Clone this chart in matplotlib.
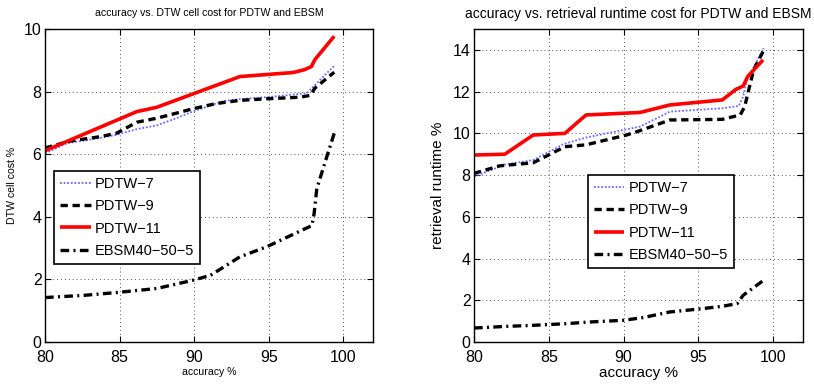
import matplotlib
matplotlib.use("Agg")
import matplotlib.pyplot as plt

# ---- data: left panel (DTW cell cost %) ----
cell_p7_x = [80.0, 81.5, 83.7, 84.8, 86.15, 87.5, 88.8, 89.9, 91.97, 93.1, 95.3, 97.56, 98.23, 99.46]
cell_p7_y = [6.03, 6.35, 6.52, 6.62, 6.80, 6.92, 7.15, 7.36, 7.70, 7.76, 7.84, 7.95, 8.27, 8.85]

cell_p9_x = [80.0, 81.7, 83.7, 84.8, 86.15, 87.5, 88.8, 89.9, 91.5, 93.07, 94.86, 97.1, 97.8, 98.1, 99.4]
cell_p9_y = [6.20, 6.42, 6.56, 6.67, 7.02, 7.15, 7.31, 7.45, 7.62, 7.72, 7.77, 7.82, 7.88, 8.11, 8.62]

cell_p11_x = [80.0, 86.15, 87.5, 93.07, 96.65, 97.4, 97.87, 98.1, 99.4]
cell_p11_y = [6.11, 7.36, 7.50, 8.48, 8.61, 8.70, 8.80, 9.02, 9.77]

cell_ebsm_x = [80.0, 82.6, 84.8, 87.5, 89.9, 91.1, 93.07, 94.86, 97.9, 98.05, 98.23, 99.4]
cell_ebsm_y = [1.42, 1.49, 1.58, 1.71, 1.97, 2.13, 2.72, 3.04, 3.72, 4.10, 4.90, 6.67]

# ---- data: right panel (retrieval runtime %) ----
run_p7_x = [80.0, 82.06, 83.96, 85.97, 87.5, 89.99, 91.1, 93.1, 96.6, 97.7, 98.0, 98.26, 99.37]
run_p7_y = [7.92, 8.50, 8.72, 9.48, 9.80, 10.16, 10.32, 11.04, 11.20, 11.31, 11.76, 12.56, 14.08]

run_p9_x = [80.0, 81.7, 83.96, 86.08, 87.5, 90.2, 91.1, 93.1, 96.6, 97.8, 98.1, 98.37, 98.7, 99.33]
run_p9_y = [8.08, 8.44, 8.59, 9.36, 9.45, 9.92, 10.13, 10.64, 10.67, 10.88, 11.28, 12.08, 13.04, 13.92]

run_p11_x = [80.0, 82.06, 83.96, 86.08, 87.49, 91.1, 93.1, 96.6, 97.5, 98.0, 98.3, 99.33]
run_p11_y = [8.96, 9.00, 9.92, 10.00, 10.88, 11.00, 11.36, 11.60, 12.10, 12.27, 12.72, 13.52]

run_ebsm_x = [80.0, 82.2, 84.0, 86.2, 87.75, 90.0, 91.3, 93.1, 94.9, 96.6, 97.6, 98.0, 99.37]
run_ebsm_y = [0.67, 0.75, 0.80, 0.88, 0.96, 1.04, 1.17, 1.44, 1.57, 1.71, 1.84, 2.24, 2.96]

labels = ["PDTW\u22127", "PDTW\u22129", "PDTW\u221211", "EBSM40\u221250\u22125"]
x_ticks = [80, 85, 90, 95, 100]

plt.rcParams["font.family"] = ["Liberation Sans", "DejaVu Sans"]

fig = plt.figure(figsize=(8.14, 3.86), dpi=100)
ax1 = fig.add_axes([45 / 814, 44 / 386, 328 / 814, 313 / 386])
ax2 = fig.add_axes([474 / 814, 44 / 386, 329 / 814, 313 / 386])

styles = [
    dict(color="#6a6aff", lw=1.3, dashes=(1.0, 1.0)),
    dict(color="black", lw=2.4, dashes=(2.2, 1.4)),
    dict(color="#ff0000", lw=2.6, linestyle="-"),
    dict(color="black", lw=2.4, dashes=(2.6, 1.3, 0.6, 1.3)),
]

legend_kw = dict(loc="upper left", borderaxespad=0, fontsize=10.5, fancybox=False,
                 edgecolor="black", framealpha=1, handlelength=2.1,
                 handletextpad=0.3, labelspacing=0.58, borderpad=0.4)


def draw(ax, series):
    for (xs, ys), st, lab in zip(series, styles, labels):
        ax.plot(xs, ys, label=lab, solid_capstyle="butt", dash_capstyle="butt", **st)
    ax.set_xlim(80, 102)
    ax.set_xticks(x_ticks)
    ax.grid(True, color="#555555", linestyle=(0, (1, 3)), linewidth=0.7)
    ax.tick_params(direction="in", top=True, right=True, length=4, width=0.8,
                   labelsize=11.5)
    ax.tick_params(axis="x", pad=5.5)
    ax.tick_params(axis="y", pad=2.5)
    for s in ax.spines.values():
        s.set_linewidth(1.0)


draw(ax1, [(cell_p7_x, cell_p7_y), (cell_p9_x, cell_p9_y),
           (cell_p11_x, cell_p11_y), (cell_ebsm_x, cell_ebsm_y)])
ax1.set_ylim(0, 10)
ax1.set_yticks([0, 2, 4, 6, 8, 10])
ax1.set_title("accuracy vs. DTW cell cost for PDTW and EBSM", fontsize=7.6, pad=9)
ax1.set_xlabel("accuracy %", fontsize=7.6)
ax1.xaxis.set_label_coords(0.5, -0.08)
ax1.set_ylabel("DTW cell cost %", fontsize=7.6)
ax1.yaxis.set_label_coords(-0.085, 0.5)
leg1 = ax1.legend(bbox_to_anchor=(0.028, 0.547), **legend_kw)
leg1.get_frame().set_linewidth(1.2)

draw(ax2, [(run_p7_x, run_p7_y), (run_p9_x, run_p9_y),
           (run_p11_x, run_p11_y), (run_ebsm_x, run_ebsm_y)])
ax2.set_ylim(0, 15)
ax2.set_yticks([0, 2, 4, 6, 8, 10, 12, 14])
ax2.set_title("accuracy vs. retrieval runtime cost for PDTW and EBSM", fontsize=10.0, pad=8)
ax2.set_xlabel("accuracy %", fontsize=11)
ax2.xaxis.set_label_coords(0.5, -0.078)
ax2.set_ylabel("retrieval runtime %", fontsize=11)
ax2.yaxis.set_label_coords(-0.088, 0.5)
leg2 = ax2.legend(bbox_to_anchor=(0.346, 0.534), **legend_kw)
leg2.get_frame().set_linewidth(1.2)

fig.savefig("out.png", dpi=100)
